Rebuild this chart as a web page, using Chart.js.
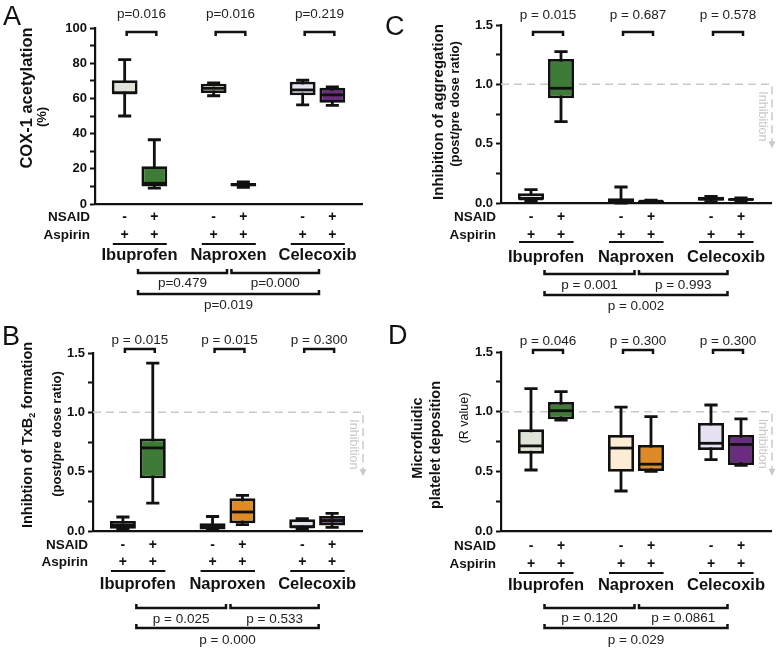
<!DOCTYPE html>
<html lang="en">
<head>
<meta charset="UTF-8" />
<title>NSAID / aspirin box plots</title>
<script src="https://cdn.jsdelivr.net/npm/chart.js"></script>
<style>
  body { margin: 0; background: #fff; }
  .wrap { position: relative; width: 782px; height: 650px; overflow: hidden; }
  .panel { position: absolute; }
</style>
</head>
<body>
<div class="wrap">
  <canvas id="panelA" class="panel" width="380" height="325" style="left:0;top:0"></canvas>
  <canvas id="panelB" class="panel" width="380" height="325" style="left:0;top:325px"></canvas>
  <canvas id="panelC" class="panel" width="402" height="325" style="left:380px;top:0"></canvas>
  <canvas id="panelD" class="panel" width="402" height="325" style="left:380px;top:325px"></canvas>
</div>

<script>
  const FONT = '"Liberation Sans", Arial, sans-serif';
  const INK = '#111';

  const drugs = ['Ibuprofen', 'Naproxen', 'Celecoxib'];
  const nsaidSigns = ['-', '+'];
  const aspirinSigns = ['+', '+'];
  const fills = ['#dfe4d8', '#3e7b37', '#fcecd3', '#df8a24', '#e6e2f1', '#6a2c81'];

  // [min, q1, median, q3, max] for: Ibu -, Ibu +, Nap -, Nap +, Cel -, Cel +
  const coxBoxes = [
    [50, 62.3, 63.2, 70.3, 82], [9, 10, 11.8, 21.5, 36.5],
    [61.5, 63, 65.7, 68.3, 68.8], [9.5, 10, 11, 12, 12.6],
    [56.3, 61.8, 64.8, 69.5, 70.3], [56, 57.5, 62, 66, 66.5]
  ];
  const coxPairP = ['p=0.016', 'p=0.016', 'p=0.219'];
  const coxDrugP = ['p=0.479', 'p=0.000', 'p=0.019'];

  const txbBoxes = [
    [0.015, 0.02, 0.05, 0.085, 0.118], [0.235, 0.445, 0.70, 0.78, 1.415],
    [0.005, 0.012, 0.03, 0.065, 0.122], [0.054, 0.065, 0.16, 0.275, 0.30],
    [0.02, 0.025, 0.035, 0.10, 0.105], [0.03, 0.047, 0.088, 0.127, 0.148]
  ];
  const txbPairP = ['p = 0.015', 'p = 0.015', 'p = 0.300'];
  const txbDrugP = ['p = 0.025', 'p = 0.533', 'p = 0.000'];

  const aggBoxes = [
    [0.02, 0.028, 0.035, 0.082, 0.112], [0.686, 0.883, 0.967, 1.214, 1.275],
    [0.0, 0.005, 0.02, 0.04, 0.135], [0.005, 0.008, 0.015, 0.022, 0.025],
    [0.012, 0.02, 0.035, 0.052, 0.056], [0.012, 0.018, 0.03, 0.04, 0.042]
  ];
  const aggPairP = ['p = 0.015', 'p = 0.687', 'p = 0.578'];
  const aggDrugP = ['p = 0.001', 'p = 0.993', 'p = 0.002'];

  const rBoxes = [
    [0.511, 0.648, 0.713, 0.852, 1.193], [0.93, 0.937, 1.008, 1.082, 1.168],
    [0.335, 0.497, 0.695, 0.805, 1.038], [0.50, 0.503, 0.56, 0.721, 0.958],
    [0.598, 0.679, 0.735, 0.906, 1.056], [0.55, 0.553, 0.725, 0.805, 0.939]
  ];
  const rPairP = ['p = 0.046', 'p = 0.300', 'p = 0.300'];
  const rDrugP = ['p = 0.120', 'p = 0.0861', 'p = 0.029'];

  // box i sits in drug group floor(i/2), one empty slot between groups
  function boxX(i) { return Math.floor(i / 2) * 3 + (i % 2); }

  function drawRotated(ctx, parts, x, y, angle) {
    ctx.save();
    ctx.translate(x, y);
    ctx.rotate(angle);
    ctx.textBaseline = 'middle';
    ctx.textAlign = 'left';
    let total = 0;
    parts.forEach(p => { ctx.font = p.font; total += ctx.measureText(p.text).width; });
    let cx = -total / 2;
    parts.forEach(p => {
      ctx.font = p.font;
      ctx.fillText(p.text, cx, p.dy || 0);
      cx += ctx.measureText(p.text).width;
    });
    ctx.restore();
  }

  function bracket(ctx, x1, x2, yl, tick) {
    ctx.beginPath();
    ctx.moveTo(x1, yl + tick);
    ctx.lineTo(x1, yl);
    ctx.lineTo(x2, yl);
    ctx.lineTo(x2, yl + tick);
    ctx.stroke();
  }

  function makeDecor(p) {
    return {
      id: 'decor' + p.letter,
      beforeDatasetsDraw(chart) {
        const { ctx, chartArea: area, scales: { x, y } } = chart;
        ctx.save();
        if (p.refLine) {
          const yr = y.getPixelForValue(1);
          const xr = area.right + 1;
          ctx.strokeStyle = '#c9c9c9';
          ctx.fillStyle = '#c9c9c9';
          ctx.lineWidth = 1.5;
          ctx.setLineDash([8, 5]);
          ctx.beginPath();
          ctx.moveTo(area.left, yr);
          ctx.lineTo(xr, yr);
          ctx.lineTo(xr, yr + 58);
          ctx.stroke();
          ctx.setLineDash([]);
          ctx.beginPath();
          ctx.moveTo(xr - 3.5, yr + 57);
          ctx.lineTo(xr + 3.5, yr + 57);
          ctx.lineTo(xr, yr + 64);
          ctx.fill();
          drawRotated(ctx, [{ text: 'Inhibition', font: '12.5px ' + FONT }], xr - 10, yr + 32, Math.PI / 2);
        }
        // whiskers
        const unit = x.getPixelForValue(1) - x.getPixelForValue(0);
        const cap = unit * 0.22;
        ctx.strokeStyle = INK;
        ctx.lineWidth = 2.8;
        p.boxes.forEach((b, i) => {
          const px = x.getPixelForValue(boxX(i));
          const yLo = y.getPixelForValue(b[0]);
          const yHi = y.getPixelForValue(b[4]);
          ctx.beginPath();
          ctx.moveTo(px, yLo); ctx.lineTo(px, yHi);
          ctx.moveTo(px - cap, yLo); ctx.lineTo(px + cap, yLo);
          ctx.moveTo(px - cap, yHi); ctx.lineTo(px + cap, yHi);
          ctx.stroke();
        });
        ctx.restore();
      },
      afterDatasetsDraw(chart) {
        const { ctx, scales: { y } } = chart;
        const bars = chart.getDatasetMeta(0).data;
        ctx.save();
        ctx.strokeStyle = INK;
        ctx.lineWidth = 2.8;
        p.boxes.forEach((b, i) => {
          const el = bars[i];
          const half = el.width / 2 - 1;
          const ym = y.getPixelForValue(b[2]);
          ctx.beginPath();
          ctx.moveTo(el.x - half, ym);
          ctx.lineTo(el.x + half, ym);
          ctx.stroke();
        });
        ctx.restore();
      },
      afterDraw(chart) {
        const { ctx, chartArea: area, scales: { x } } = chart;
        const bot = area.bottom;
        const r = p.rows;
        const px = v => x.getPixelForValue(v);
        ctx.save();
        ctx.fillStyle = INK;
        ctx.strokeStyle = INK;

        // panel letter
        ctx.font = '27px ' + FONT;
        ctx.textAlign = 'left';
        ctx.textBaseline = 'alphabetic';
        ctx.fillText(p.letter, p.letterX, p.letterY);

        // y titles
        p.titles.forEach(t => {
          drawRotated(ctx, t.parts, t.x, t.y, -Math.PI / 2);
        });

        // pairwise p-values above
        ctx.textAlign = 'center';
        ctx.textBaseline = 'middle';
        ctx.lineWidth = 2.5;
        drugs.forEach((d, g) => {
          const x0 = px(boxX(2 * g)) + 2, x1 = px(boxX(2 * g + 1)) + 2;
          ctx.font = '13.5px ' + FONT;
          ctx.fillStyle = '#222';
          ctx.fillText(p.pairP[g], (x0 + x1) / 2, p.pairTextY);
          bracket(ctx, x0, x1, p.pairBracketY, 4);
        });

        // NSAID / Aspirin rows
        ctx.fillStyle = INK;
        ctx.font = 'bold 13.5px ' + FONT;
        ctx.textAlign = 'right';
        ctx.fillText('NSAID', area.left - 5, bot + r[0]);
        ctx.fillText('Aspirin', area.left - 5, bot + r[1]);
        ctx.textAlign = 'center';
        ctx.font = 'bold 14px ' + FONT;
        p.boxes.forEach((b, i) => {
          ctx.fillText(nsaidSigns[i % 2], px(boxX(i)), bot + r[0]);
          ctx.fillText(aspirinSigns[i % 2], px(boxX(i)), bot + r[1]);
        });

        // drug groups
        ctx.lineWidth = 2.2;
        drugs.forEach((d, g) => {
          const c = g * 3;
          ctx.beginPath();
          ctx.moveTo(px(c - 0.4), bot + r[2]);
          ctx.lineTo(px(c + 1.42), bot + r[2]);
          ctx.stroke();
          ctx.font = 'bold 16.5px ' + FONT;
          ctx.fillText(d, px(c + 0.5), bot + r[3]);
        });

        // between-drug comparisons
        ctx.lineWidth = 2.5;
        ctx.font = '13.5px ' + FONT;
        ctx.fillStyle = '#222';
        const spans = [[0.45, 3.45], [3.6, 6.55], [0.45, 6.55]];
        spans.forEach((s, k) => {
          const yl = bot + (k < 2 ? r[4] : r[6]);
          const yt = bot + (k < 2 ? r[5] : r[7]);
          bracket(ctx, px(s[0]), px(s[1]), yl, -4);
          ctx.fillText(p.drugP[k], px((s[0] + s[1]) / 2), yt);
        });
        ctx.restore();
      }
    };
  }

  function makePanel(p) {
    const fraction = p.yMax <= 2;
    new Chart(document.getElementById(p.canvas), {
      type: 'bar',
      data: {
        datasets: [{
          data: p.boxes.map((b, i) => ({ x: boxX(i), y: [b[1], b[3]] })),
          backgroundColor: fills,
          borderColor: INK,
          borderWidth: 2.8,
          borderSkipped: false,
          barPercentage: 0.87,
          categoryPercentage: 1
        }]
      },
      options: {
        responsive: false,
        animation: false,
        layout: { padding: { left: 0, top: p.pad.top, right: p.pad.right, bottom: p.pad.bottom } },
        plugins: { legend: { display: false }, tooltip: { enabled: false } },
        scales: {
          x: {
            type: 'linear', min: -1, max: 8, offset: false,
            grid: { display: false, drawTicks: false },
            ticks: { display: false },
            border: { color: INK, width: 2.2 },
            afterFit: s => { s.height = 0; }
          },
          y: {
            min: p.yMin, max: p.yMax,
            ticks: {
              stepSize: p.yStep, autoSkip: false, padding: 3, color: INK,
              font: { family: FONT, size: 13, weight: 'bold' },
              callback: v => fraction
                ? (Math.round(v * 4) % 2 === 0 ? v.toFixed(1) : '')
                : (v % 20 === 0 ? v : '')
            },
            grid: { drawOnChartArea: false, tickLength: 5, tickWidth: 2, tickColor: INK },
            border: { color: INK, width: 2.2 },
            afterFit: s => { s.width = p.axisW; }
          }
        }
      },
      plugins: [makeDecor(p)]
    });
  }

  const bold = s => 'bold ' + s + 'px ' + FONT;
  const reg = s => s + 'px ' + FONT;

  makePanel({
    canvas: 'panelA', letter: 'A', letterX: 3, letterY: 25,
    boxes: coxBoxes, pairP: coxPairP, drugP: coxDrugP,
    yMin: 0, yMax: 100, yStep: 10,
    pad: { top: 28, right: 18, bottom: 121 }, axisW: 95,
    refLine: false, pairTextY: 14, pairBracketY: 32,
    rows: [13, 31, 40, 51, 69, 79, 90, 101],
    titles: [
      { x: 27, y: 98, parts: [{ text: 'COX-1 acetylation', font: bold(16.5) }] },
      { x: 42, y: 117, parts: [{ text: '(%)', font: bold(13) }] }
    ]
  });

  makePanel({
    canvas: 'panelB', letter: 'B', letterX: 2, letterY: 20,
    boxes: txbBoxes, pairP: txbPairP, drugP: txbDrugP,
    yMin: 0, yMax: 1.5, yStep: 0.25,
    pad: { top: 28, right: 18, bottom: 119 }, axisW: 93,
    refLine: true, pairTextY: 15, pairBracketY: 24,
    rows: [14, 31, 40, 53, 77, 88, 97, 109],
    titles: [
      { x: 28, y: 110, parts: [
        { text: 'Inhibtion of TxB', font: bold(14.5) },
        { text: '2', font: bold(9), dy: 5 },
        { text: ' formation', font: bold(14.5) }
      ] },
      { x: 57, y: 109, parts: [{ text: '(post/pre dose ratio)', font: bold(13) }] }
    ]
  });

  makePanel({
    canvas: 'panelC', letter: 'C', letterX: 5, letterY: 35,
    boxes: aggBoxes, pairP: aggPairP, drugP: aggDrugP,
    yMin: 0, yMax: 1.5, yStep: 0.25,
    pad: { top: 25, right: 11, bottom: 122 }, axisW: 121,
    refLine: true, pairTextY: 15, pairBracketY: 32,
    rows: [14, 32, 39, 54, 71, 82, 92, 103],
    titles: [
      { x: 59, y: 112, parts: [{ text: 'Inhibition of aggregation', font: bold(15) }] },
      { x: 75, y: 104, parts: [{ text: '(post/pre dose ratio)', font: bold(13) }] }
    ]
  });

  makePanel({
    canvas: 'panelD', letter: 'D', letterX: 8, letterY: 19,
    boxes: rBoxes, pairP: rPairP, drugP: rDrugP,
    yMin: 0, yMax: 1.5, yStep: 0.25,
    pad: { top: 27, right: 11, bottom: 119 }, axisW: 121,
    refLine: true, pairTextY: 16, pairBracketY: 25,
    rows: [15, 33, 42, 54, 77, 87, 97, 109],
    titles: [
      { x: 38, y: 113, parts: [{ text: 'Microfluidic', font: bold(14.5) }] },
      { x: 56, y: 120, parts: [{ text: 'platelet deposition', font: bold(14.5) }] },
      { x: 85, y: 93, parts: [{ text: '(R value)', font: reg(12.5) }] }
    ]
  });
</script>
</body>
</html>
